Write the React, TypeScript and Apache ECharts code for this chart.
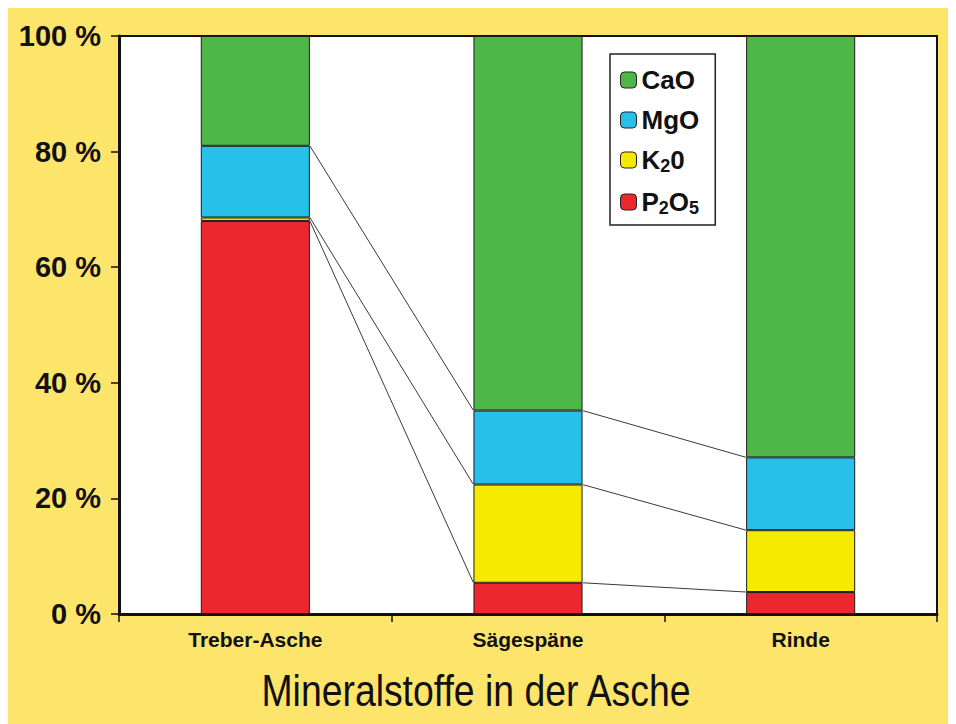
import React, { useEffect, useRef } from "react";
import * as echarts from "echarts";

// Ash composition per fuel, in percent of the four oxides
const categories = ["Treber-Asche", "Sägespäne", "Rinde"];
const p2o5 = [68.0, 5.4, 3.8];
const k2o = [0.6, 17.0, 10.7];
const mgo = [12.4, 12.8, 12.6];
const cao = [19.0, 64.8, 72.9];
const yTicks = [0, 20, 40, 60, 80, 100];

const FONT = "'Liberation Sans', Arial, Helvetica, sans-serif";
const BG = "#fde56c";
const colors = {
  CaO: "#4fb748",
  MgO: "#27c0e9",
  K2O: "#f6ea00",
  P2O5: "#ec282e",
};

export default function App() {
  const ref = useRef<HTMLDivElement>(null);

  useEffect(() => {
    if (!ref.current) return;
    const chart = echarts.init(ref.current, undefined, { renderer: "svg" });

    // cumulative tops of the lower three segments, used for the connector lines
    const tops = categories.map((_, i) => [
      p2o5[i],
      p2o5[i] + k2o[i],
      p2o5[i] + k2o[i] + mgo[i],
    ]);
    const connectors: number[][] = [];
    for (let i = 0; i < categories.length - 1; i++) {
      for (let k = 0; k < 3; k++) {
        connectors.push([i, tops[i][k], tops[i + 1][k]]);
      }
    }

    const barStyle = (c: string) => ({
      color: c,
      borderColor: "#1c1c1c",
      borderWidth: 1,
    });

    const legendNames: Record<string, string> = {
      CaO: "{b|CaO}",
      MgO: "{b|MgO}",
      K2O: "{b|K}{s|2}{b|0}",
      P2O5: "{b|P}{s|2}{b|O}{s|5}",
    };

    chart.setOption({
      animation: false,
      backgroundColor: BG,
      grid: {
        left: 111,
        top: 28,
        right: 19,
        bottom: 110,
        show: true,
        backgroundColor: "#ffffff",
        borderColor: "#111",
        borderWidth: 2,
      },
      legend: {
        orient: "vertical",
        left: 602,
        top: 46,
        data: ["CaO", "MgO", "K2O", "P2O5"],
        backgroundColor: "#ffffff",
        borderColor: "#222",
        borderWidth: 1.5,
        borderRadius: 0,
        padding: [13, 16, 8, 10],
        itemWidth: 16,
        itemHeight: 16,
        itemGap: 14,
        itemStyle: { borderColor: "#222", borderWidth: 1 },
        formatter: (name: string) => legendNames[name] || name,
        textStyle: {
          color: "#111",
          fontFamily: FONT,
          rich: {
            b: {
              fontSize: 26,
              fontWeight: "bold",
              fontFamily: FONT,
              color: "#111",
              lineHeight: 30,
            },
            s: {
              fontSize: 18,
              fontWeight: "bold",
              fontFamily: FONT,
              color: "#111",
              lineHeight: 8,
              verticalAlign: "bottom",
            },
          },
        },
      },
      xAxis: {
        type: "category",
        data: categories,
        axisLine: { show: true, lineStyle: { color: "#111", width: 3 } },
        axisTick: { show: true, length: 8, lineStyle: { color: "#111", width: 1.5 } },
        axisLabel: {
          fontFamily: FONT,
          fontSize: 21,
          fontWeight: "bold",
          color: "#111",
          margin: 15,
        },
      },
      yAxis: {
        type: "value",
        min: yTicks[0],
        max: yTicks[yTicks.length - 1],
        interval: yTicks[1] - yTicks[0],
        axisLine: { show: true, lineStyle: { color: "#111", width: 3 } },
        axisTick: { show: true, length: 8, lineStyle: { color: "#111", width: 1.5 } },
        splitLine: { show: false },
        axisLabel: {
          formatter: "{value} %",
          fontFamily: FONT,
          fontSize: 29,
          fontWeight: "bold",
          color: "#111",
          margin: 18,
        },
      },
      series: [
        { name: "P2O5", type: "bar", stack: "ash", barWidth: "40%", data: p2o5, itemStyle: barStyle(colors.P2O5) },
        { name: "K2O", type: "bar", stack: "ash", barWidth: "40%", data: k2o, itemStyle: barStyle(colors.K2O) },
        { name: "MgO", type: "bar", stack: "ash", barWidth: "40%", data: mgo, itemStyle: barStyle(colors.MgO) },
        { name: "CaO", type: "bar", stack: "ash", barWidth: "40%", data: cao, itemStyle: barStyle(colors.CaO) },
        {
          name: "Verbindung",
          type: "custom",
          silent: true,
          z: 3,
          data: connectors,
          renderItem: (_params: any, api: any) => {
            const idx = api.value(0);
            const band = api.size([1, 0])[0];
            const a = api.coord([idx, api.value(1)]);
            const b = api.coord([idx + 1, api.value(2)]);
            return {
              type: "line",
              shape: {
                x1: a[0] + band * 0.2,
                y1: a[1],
                x2: b[0] - band * 0.2,
                y2: b[1],
              },
              style: { stroke: "#3a3a3a", lineWidth: 1 },
            };
          },
        },
      ],
      graphic: [
        {
          type: "text",
          x: 468,
          y: 683,
          scaleX: 0.83,
          style: {
            text: "Mineralstoffe in der Asche",
            x: 0,
            y: 0,
            textAlign: "center",
            textVerticalAlign: "middle",
            fontFamily: FONT,
            fontSize: 45,
            fill: "#111",
          },
        },
      ],
    });

    return () => chart.dispose();
  }, []);

  return <div ref={ref} style={{ width: 948, height: 716 }} />;
}
